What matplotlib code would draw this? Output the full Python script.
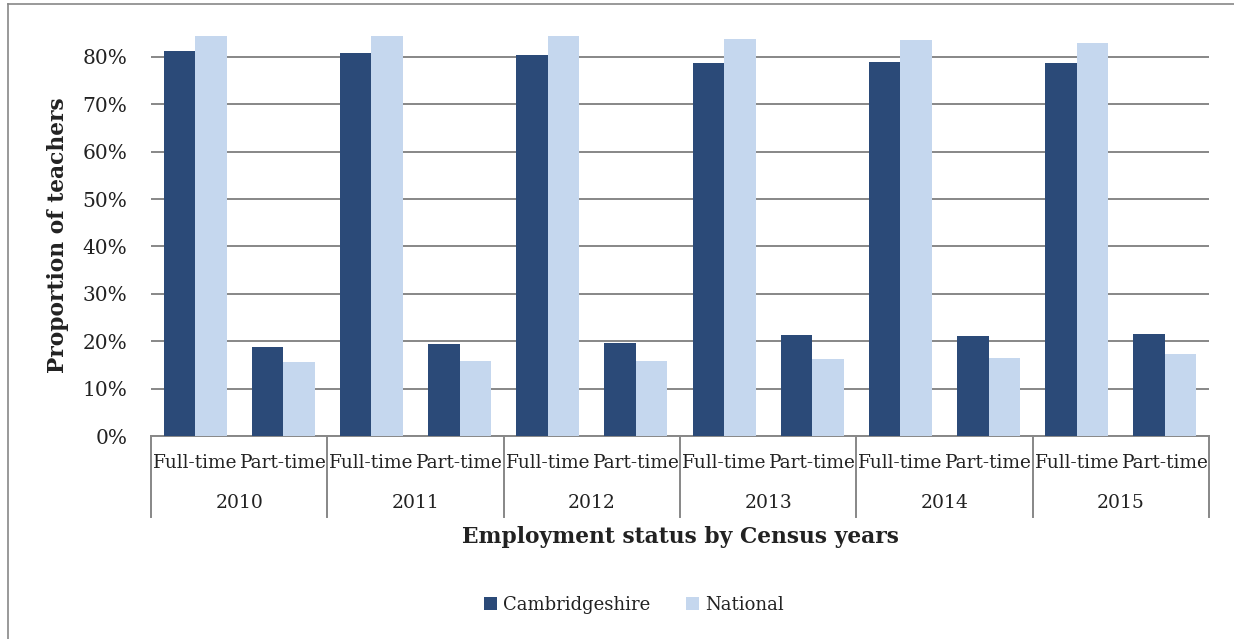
import matplotlib
matplotlib.use("Agg")
import matplotlib.pyplot as plt
import numpy as np
from matplotlib.lines import Line2D

years = ["2010", "2011", "2012", "2013", "2014", "2015"]
statuses = ["Full-time", "Part-time"]
cambs_full = [81.3, 80.8, 80.4, 78.7, 78.9, 78.7]
cambs_part = [18.8, 19.4, 19.6, 21.3, 21.2, 21.5]
nat_full = [84.4, 84.3, 84.4, 83.8, 83.5, 83.0]
nat_part = [15.7, 15.8, 15.8, 16.3, 16.5, 17.2]

dark = "#2B4A78"
light = "#C5D7EE"
grey = "#878787"
txt = "#222222"
plt.rcParams["font.family"] = "DejaVu Serif"

W, H = 1234, 639
fig = plt.figure(figsize=(W / 100, H / 100), dpi=100)
left, right, bottom, top = 151, 1209, 436, 35
ax = fig.add_axes([left / W, 1 - bottom / H, (right - left) / W, (bottom - top) / H])

# interleave full/part per year
cambs = []
nat = []
for i in range(len(years)):
    cambs += [cambs_full[i], cambs_part[i]]
    nat += [nat_full[i], nat_part[i]]
x = np.arange(len(cambs))
bw = 0.357
ax.bar(x - bw / 2, np.array(cambs) / 100, bw, color=dark, label="Cambridgeshire", zorder=3)
ax.bar(x + bw / 2, np.array(nat) / 100, bw, color=light, label="National", zorder=3)

ax.set_xlim(-0.5, len(x) - 0.5)
ax.set_ylim(0, 0.846)
ax.set_yticks(np.arange(0, 0.81, 0.1))
ax.set_yticklabels([f"{int(round(v * 100))}%" for v in np.arange(0, 0.81, 0.1)])
ax.tick_params(axis="y", length=0, pad=17, labelsize=14.5, labelcolor=txt)
ax.tick_params(axis="x", length=0, labelbottom=False)
ax.yaxis.grid(True, color=grey, linewidth=1.4, zorder=0)
for s in ["top", "right", "left"]:
    ax.spines[s].set_visible(False)
ax.spines["bottom"].set_color(grey)
ax.spines["bottom"].set_linewidth(1.4)

# two-level category axis
def fy(py):
    return 1 - py / H

tr = ax.get_xaxis_transform()
for i in range(len(x)):
    ax.text(x[i], -27 / (bottom - top), statuses[i % 2], transform=tr, ha="center", va="center",
            fontsize=13.3, color=txt)
for g in range(len(years)):
    ax.text(2 * g + 0.5, -67 / (bottom - top), years[g], transform=tr, ha="center", va="center",
            fontsize=13.5, color=txt)
for b in range(len(years) + 1):
    xb = 2 * b - 0.5
    ax.add_line(Line2D([xb, xb], [0, -81 / (bottom - top)], transform=tr, color=grey,
                       linewidth=1.4, clip_on=False))

ax.set_ylabel("Proportion of teachers", fontsize=15.7, fontweight="bold", color=txt, labelpad=10)
fig.text((left + right) / 2 / W, fy(537), "Employment status by Census years", ha="center", va="center",
         fontsize=15.7, fontweight="bold", color=txt)

leg = fig.legend(loc="center", bbox_to_anchor=(634 / W, fy(605)), ncol=2, frameon=False,
                 fontsize=13, handlelength=0.7, handleheight=0.7, handletextpad=0.35, columnspacing=2.0)
for t in leg.get_texts():
    t.set_color(txt)

# outer chart border
fig.add_artist(Line2D([8 / W, 8 / W], [fy(4), 0], transform=fig.transFigure, color=grey, linewidth=1.2))
fig.add_artist(Line2D([8 / W, 1], [fy(4), fy(4)], transform=fig.transFigure, color=grey, linewidth=1.2))

fig.savefig("out.png", dpi=100)
